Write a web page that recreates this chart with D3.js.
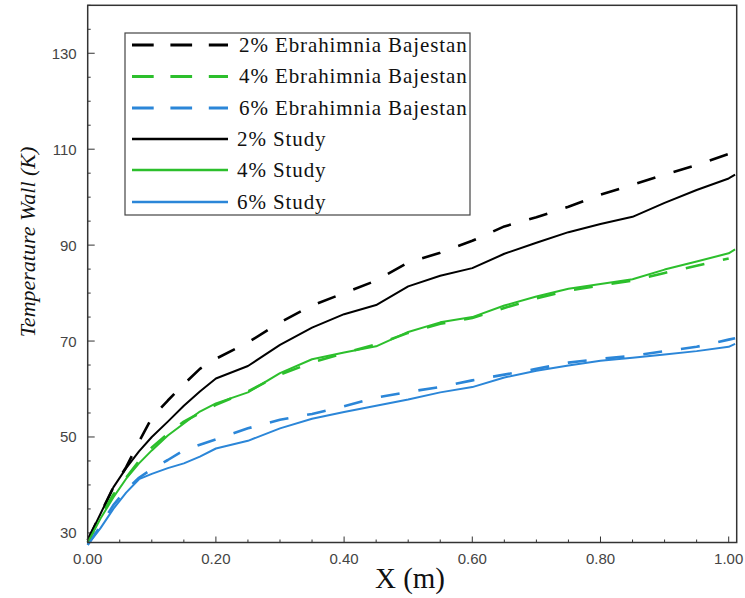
<!DOCTYPE html>
<html><head><meta charset="utf-8">
<script src="https://cdn.jsdelivr.net/npm/d3@7"></script>
<style>body{margin:0;background:#fff}</style>
</head><body>
<svg id="chart" width="745" height="598"></svg>
<script>
// ---- data ----
const xGrid = [0,0.02,0.04,0.06,0.08,0.1,0.125,0.15,0.175,0.2,0.25,0.3,0.35,0.4,0.45,0.5,0.55,0.6,0.65,0.7,0.75,0.8,0.85,0.9,0.95,1.0,1.01];
const study2 = [28.5,34,39.5,43.5,47,50,53.2,56.5,59.5,62.2,64.8,69.2,72.8,75.6,77.5,81.4,83.6,85.2,88.2,90.5,92.7,94.4,95.9,98.8,101.5,103.9,104.7];
const study4 = [28,33,37.4,41.3,44.5,47.2,50.3,52.8,55.3,57,59.3,63.3,66.2,67.6,68.9,71.9,73.9,75,77.4,79.3,80.9,81.9,82.9,84.9,86.6,88.3,89.1];
const study6 = [27.5,31,35,38.4,41.2,42.3,43.5,44.5,45.9,47.6,49.2,51.8,53.8,55.2,56.5,57.8,59.3,60.4,62.4,63.8,64.9,65.9,66.5,67.2,67.9,68.8,69.4];
const ebra2 = [28.5,34,39.5,43.7,49,54,57.6,61,64.2,66.3,69.7,73.9,77.4,80,82.6,86.4,88.4,90.9,93.9,95.8,98,100.5,102.6,104.7,106.7,109,null];
const ebra4 = [28,33.5,38,41.5,45,47.8,50.7,53.2,55,56.7,59.5,63,65.5,67.5,69.3,71.7,73.6,74.8,76.9,78.9,80.5,81.6,82.6,84.2,85.7,87.2,null];
const ebra6 = [27.5,31.5,35.8,39,41.5,43.3,45.2,47.2,48.4,49.5,51.8,53.6,54.8,56.4,58.2,59.4,60.4,61.8,63,64.2,65.5,66.3,66.9,67.9,68.8,70.3,70.6];
const xTicks = [0,0.2,0.4,0.6,0.8,1.0];
const xTickLabels = ["0.00","0.20","0.40","0.60","0.80","1.00"];
const yTicks = [30,50,70,90,110,130];
const legendLabels = ["2% Ebrahimnia Bajestan","4% Ebrahimnia Bajestan","6% Ebrahimnia Bajestan","2% Study","4% Study","6% Study"];
const colors = {k:"#000000", g:"#2cbf2c", b:"#2b86d8"};

const series = [
  {name:legendLabels[0], vals:ebra2, color:colors.k, dash:true},
  {name:legendLabels[1], vals:ebra4, color:colors.g, dash:true},
  {name:legendLabels[2], vals:ebra6, color:colors.b, dash:true},
  {name:legendLabels[3], vals:study2, color:colors.k, dash:false},
  {name:legendLabels[4], vals:study4, color:colors.g, dash:false},
  {name:legendLabels[5], vals:study6, color:colors.b, dash:false}
];

const svg = d3.select("#chart");
const L = 87.7, R = 736.7, T = 5.3, B = 542.5;
const x = d3.scaleLinear().domain([0, 1.0125]).range([L, R]);
const y = d3.scaleLinear().domain([28, 140]).range([B, T]);

// ticks (inward)
const g = svg.append("g");
const xMinor = d3.range(0, 1.0001, 0.05);
const yMinor = d3.range(30, 140.01, 5);
g.selectAll(".xt").data(xMinor).enter().append("line")
  .attr("x1", d=>x(d)).attr("x2", d=>x(d))
  .attr("y1", B).attr("y2", (d,i)=> B - (i%4===0?6:3))
  .attr("stroke","#333").attr("stroke-width",1);
g.selectAll(".yt").data(yMinor).enter().append("line")
  .attr("y1", d=>y(d)).attr("y2", d=>y(d))
  .attr("x1", L).attr("x2", (d,i)=> L + (i%4===0?7:3))
  .attr("stroke","#333").attr("stroke-width",1);

// tick labels
g.selectAll(".xl").data(xTicks).enter().append("text")
  .attr("x", d=>x(d)).attr("y", B+21)
  .attr("text-anchor","middle")
  .style("font-family","Liberation Sans, Arial, sans-serif").style("font-size","15px").attr("fill","#444")
  .text((d,i)=>xTickLabels[i]);
g.selectAll(".yl").data(yTicks).enter().append("text")
  .attr("x", L-11).attr("y", d=>y(d)+5.5)
  .attr("text-anchor","end")
  .style("font-family","Liberation Sans, Arial, sans-serif").style("font-size","15px").attr("fill","#444")
  .text(d=>d);

// lines
const line = d3.line().defined(d=>d[1]!==null).x(d=>x(d[0])).y(d=>y(d[1]));
const plot = svg.append("g");
series.forEach(s=>{
  plot.append("path")
    .datum(xGrid.map((xv,i)=>[xv, s.vals[i]]))
    .attr("d", line)
    .attr("fill","none")
    .attr("stroke", s.color)
    .attr("stroke-width", s.dash?2.6:2)
    .attr("stroke-dasharray", s.dash?"19,19":null)
    .attr("stroke-linejoin","round");
});

// frame
svg.append("rect").attr("x",L).attr("y",T).attr("width",R-L).attr("height",B-T)
  .attr("fill","none").attr("stroke","#333").attr("stroke-width",1.5);

// axis titles
svg.append("text").attr("x", 410).attr("y", 588).attr("text-anchor","middle")
  .style("font-family","Liberation Serif, Times New Roman, serif").style("font-size","29px").attr("fill","#111")
  .text("X (m)");
svg.append("text").attr("transform","translate(35,242) rotate(-90)").attr("text-anchor","middle")
  .style("font-family","Liberation Serif, Times New Roman, serif").style("font-size","22px").style("font-style","italic").attr("fill","#111")
  .text("Temperature Wall (K)");

// legend
const lg = svg.append("g");
lg.append("rect").attr("x",125).attr("y",33).attr("width",345).attr("height",182)
  .attr("fill","#fff").attr("stroke","#444").attr("stroke-width",1.2);
const rowY = [45,76.5,108,139,170,202];
series.forEach((s,i)=>{
  lg.append("line").attr("x1",132).attr("x2",228).attr("y1",rowY[i]).attr("y2",rowY[i])
    .attr("stroke",s.color).attr("stroke-width",s.dash?3:2.6)
    .attr("stroke-dasharray", s.dash?"21.7,16.7":null);
  lg.append("text").attr("x", s.dash?239:237).attr("y", rowY[i]+6.5)
    .style("font-family","Liberation Serif, Times New Roman, serif").style("font-size","21px")
    .style("letter-spacing","0.9px").attr("fill","#111")
    .text(s.name);
});
</script>
</body></html>
